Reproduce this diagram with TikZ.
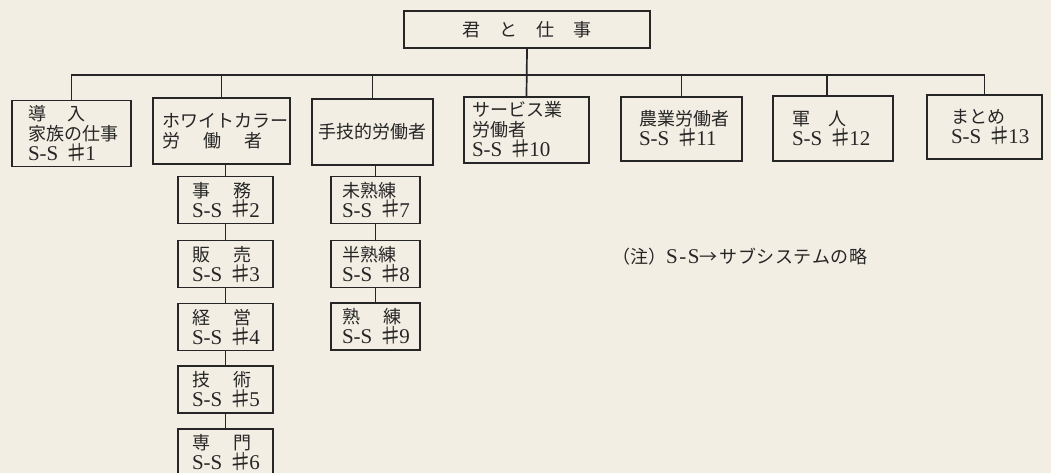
\documentclass[tikz,border=0pt]{standalone}
\usepackage{fontspec}
\setmainfont{Liberation Serif}
\newfontfamily\cjk{Noto Sans CJK JP}
\definecolor{paper}{HTML}{F3EEE3}
\definecolor{ink}{HTML}{262626}
\newcommand\lnst{\rule[-3pt]{0pt}{20pt}}
\newcommand\jp[1]{\lnst\smash{\cjk\fontsize{18}{20}\selectfont #1}}
\newcommand\ssn[1]{\lnst\smash{\mbox{S-S\hspace{11.5pt}\makebox[14pt]{\cjk\fontsize{19}{20}\selectfont\scalebox{1.5}[1.1]{♯}}\hspace{1.5pt}#1}}}
\tikzset{
  bx/.style={draw=ink, line width=1.7pt, inner ysep=0pt, align=left, text=ink,
    font=\fontsize{21}{20}\selectfont},
  subw/.style={bx, minimum width=95pt, minimum height=47pt, inner xsep=14pt, text width=67pt},
  subt/.style={bx, minimum width=89pt, minimum height=47pt, inner xsep=11pt, text width=67pt},
  link/.style={draw=ink, line width=1.7pt}
}
\begin{document}
\begin{tikzpicture}[x=1pt, y=-1pt]
\useasboundingbox (0,0) rectangle (1051,473);
\fill[paper] (0,0) rectangle (1051,473);
\clip (0,0) rectangle (1051,473);
% top
\node[bx, minimum width=246pt, minimum height=37pt, inner xsep=0pt] (top) at (527,29.5)
  {\jp{君\kern1.05em と\kern1.05em 仕\kern1.05em 事}};
\coordinate (bus) at (527,75);
% first row
\node[bx, minimum width=119pt, minimum height=66pt, inner xsep=16pt, text width=87pt] (intro) at (71.5,133.5)
  {\jp{導\kern1.2em 入}\\\jp{家族の仕事}\\\ssn{1}};
\node[bx, minimum width=137pt, minimum height=66pt, inner xsep=9pt, text width=119pt] (white) at (221.5,131)
  {\jp{ホワイトカラー}\\\jp{労\kern1.3em 働\kern1.3em 者}};
\node[bx, minimum width=121pt, minimum height=66pt, inner xsep=6pt, text width=109pt] (tech) at (372.5,132)
  {\jp{手技的労働者}};
\node[bx, minimum width=125pt, minimum height=66pt, inner xsep=8pt, text width=109pt] (svc) at (526.5,130)
  {\jp{サービス業}\\\jp{労働者}\\\ssn{10}};
\node[bx, minimum width=121pt, minimum height=64pt, inner xsep=18pt, text width=85pt] (farm) at (681.5,129)
  {\jp{農業労働者}\\\ssn{11}};
\node[bx, minimum width=120pt, minimum height=65pt, inner xsep=19pt, text width=82pt] (mil) at (833,128.5)
  {\jp{軍\kern1em 人}\\\ssn{12}};
\node[bx, minimum width=115pt, minimum height=64pt, inner xsep=24pt, text width=67pt] (sum) at (984.5,127)
  {\jp{まとめ}\\\ssn{13}};
% white-collar column
\node[subw] (w1) at (225.5,200) {\jp{事\kern1.3em 務}\\\ssn{2}};
\node[subw] (w2) at (225.5,264) {\jp{販\kern1.3em 売}\\\ssn{3}};
\node[subw] (w3) at (225.5,327) {\jp{経\kern1.3em 営}\\\ssn{4}};
\node[subw] (w4) at (225.5,389.5) {\jp{技\kern1.3em 術}\\\ssn{5}};
\node[subw] (w5) at (225.5,452.5) {\jp{専\kern1.3em 門}\\\ssn{6}};
% manual column
\node[subt] (t1) at (375.5,200) {\jp{未熟練}\\\ssn{7}};
\node[subt] (t2) at (375.5,264) {\jp{半熟練}\\\ssn{8}};
\node[subt] (t3) at (375.5,326.5) {\jp{熟\kern1.3em 練}\\\ssn{9}};
% note
\node[anchor=west, inner sep=0pt, text=ink, font=\fontsize{21}{21}\selectfont] (note) at (612,257)
  {{\cjk\fontsize{18}{20}\selectfont （注）}S\kern1.5pt-\kern1.5pt S{\cjk\fontsize{18}{20}\selectfont →\kern2pt サ\kern0.5pt ブ\kern0.5pt シ\kern0.5pt ス\kern0.5pt テ\kern0.5pt ム\kern0.5pt の\kern0.5pt 略}};
% connectors
\draw[link] (top.south) -- (svc.north);
\draw[link] (intro.north) |- (sum.north |- bus) -- (sum.north);
\draw[link] (white.north) -- (white.north |- bus);
\draw[link] (tech.north) -- (tech.north |- bus);
\draw[link] (farm.north) -- (farm.north |- bus);
\draw[link] ([xshift=-6pt]mil.north) -- ([xshift=-6pt]mil.north |- bus);
\draw[link] (w1.north |- white.south) -- (w1.north);
\draw[link] (w1.south) -- (w2.north);
\draw[link] (w2.south) -- (w3.north);
\draw[link] (w3.south) -- (w4.north);
\draw[link] (w4.south) -- (w5.north);
\draw[link] (t1.north |- tech.south) -- (t1.north);
\draw[link] (t1.south) -- (t2.north);
\draw[link] (t2.south) -- (t3.north);
\end{tikzpicture}
\end{document}
